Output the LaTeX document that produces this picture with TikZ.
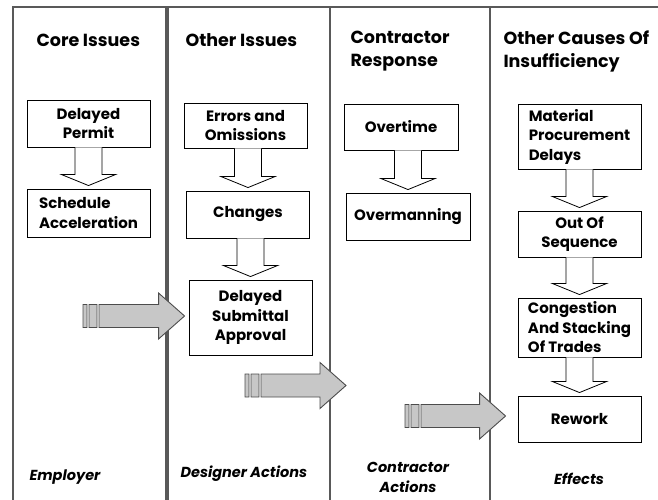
\documentclass[tikz,border=0pt]{standalone}
\usepackage{fontspec}
\setmainfont{Poppins}
\usetikzlibrary{calc}

\tikzset{
  lane/.style={draw=black!65, line width=1.6pt},
  title/.style={anchor=west, align=left, font=\fontsize{17.5}{23}\selectfont\bfseries},
  actor/.style={align=center, font=\fontsize{14.5}{20}\selectfont\bfseries\itshape},
  box/.style={draw, line width=0.9pt, minimum width=123pt, align=center,
    inner sep=1pt, font=\fontsize{15}{19.5}\selectfont\bfseries},
  hollow/.style={draw, line width=0.8pt, fill=white},
  fat/.style={draw=black!70, line width=0.9pt, fill=black!22}
}

% hollow block arrow pointing down, from one box to the next
\newcommand{\hollowdown}[2]{%
  \draw[hollow] let \p1=(#1.south), \p2=(#2.north) in
    (\x2-13.5pt,\y1) -- (\x2-13.5pt,\y2+14pt) -- (\x2-27pt,\y2+14pt)
    -- (\x2,\y2+3pt) -- (\x2+27pt,\y2+14pt) -- (\x2+13.5pt,\y2+14pt)
    -- (\x2+13.5pt,\y1);}
% grey block arrow with two bars at its tail
\newcommand{\fatright}[2]{%
  \draw[fat] let \p1=(#1), \p2=(#2) in
    (\x1,\y1+11.5pt) rectangle (\x1+4pt,\y1-11.5pt)
    (\x1+6pt,\y1+11.5pt) rectangle (\x1+14pt,\y1-11.5pt)
    (\x1+16pt,\y1+11.5pt) -- (\x2-26pt,\y1+11.5pt) -- (\x2-26pt,\y1+23pt)
    -- (\x2,\y1) -- (\x2-26pt,\y1-23pt) -- (\x2-26pt,\y1-11.5pt)
    -- (\x1+16pt,\y1-11.5pt) -- cycle;}

\begin{document}
\begin{tikzpicture}[x=1pt, y=-1pt]
    \useasboundingbox (0,0) rectangle (658,500);
    \clip (0,0) rectangle (658,500);
    % Lanes
    \draw[lane] (13,7) rectangle (166,520);
    \draw[lane] (168,7) rectangle (330,520);
    \draw[lane] (330,7) rectangle (490,520);
    \draw[lane] (490,7) rectangle (680,520);

    % Lane titles
    \node[title] (core) at (33,40) {Core Issues};
    \node[title] (other) at (182,40) {Other Issues};
    \node[title] (resp) at (347,51.5) {Contractor\\Response};
    \node[title] (causes) at (500,51.5) {Other Causes Of\\Insufficiency};

    % Core issues
    \node[box, minimum height=47pt] (permit) at (88.5,123.5) {Delayed\\Permit};
    \node[box, minimum height=48pt, align=left] (accel) at (88.5,213) {Schedule\\Acceleration};
    \hollowdown{permit}{accel}

    % Other issues
    \node[box, minimum height=45pt] (errors) at (245.5,125.5) {Errors and\\Omissions};
    \node[box, minimum height=47pt] (changes) at (248,214.5) {Changes};
    \node[box, minimum height=75pt] (submit) at (250.5,317.5) {Delayed\\Submittal\\Approval};
    \hollowdown{errors}{changes}
    \hollowdown{changes}{submit}

    % Contractor response
    \node[box, minimum width=114pt, minimum height=46pt] (overtime) at (401,127) {Overtime};
    \node[box, minimum width=124pt, minimum height=47pt] (overman) at (408,216.5) {Overmanning};
    \hollowdown{overtime}{overman}

    % Other causes
    \node[box, minimum height=65pt, align=left] (material) at (579.5,136.5) {Material\\Procurement\\Delays};
    \node[box, minimum height=46pt] (sequence) at (579.5,234) {Out Of\\Sequence};
    \node[box, minimum height=59pt, align=left] (congest) at (579.5,327.5) {Congestion\\And Stacking\\Of Trades};
    \node[box, minimum height=46pt] (rework) at (579.5,419) {Rework};
    \hollowdown{material}{sequence}
    \hollowdown{sequence}{congest}
    \hollowdown{congest}{rework}

    % Grey arrows between lanes
    \coordinate (emp) at (83,316);
    \coordinate (des) at (245,385.5);
    \coordinate (desend) at (346,385.5);
    \coordinate (con) at (405,416);
    \fatright{emp}{$(submit.west)+(-4,0)$}
    \fatright{des}{desend}
    \fatright{con}{$(rework.west)+(-12,0)$}

    % Lane owners
    \node[actor, anchor=west] (employer) at (26,477) {Employer};
    \node[actor, anchor=west] (designer) at (177,474) {Designer Actions};
    \node[actor] (contractor) at (408,477) {Contractor\\Actions};
    \node[actor] (effects) at (579,479) {Effects};
\end{tikzpicture}
\end{document}
